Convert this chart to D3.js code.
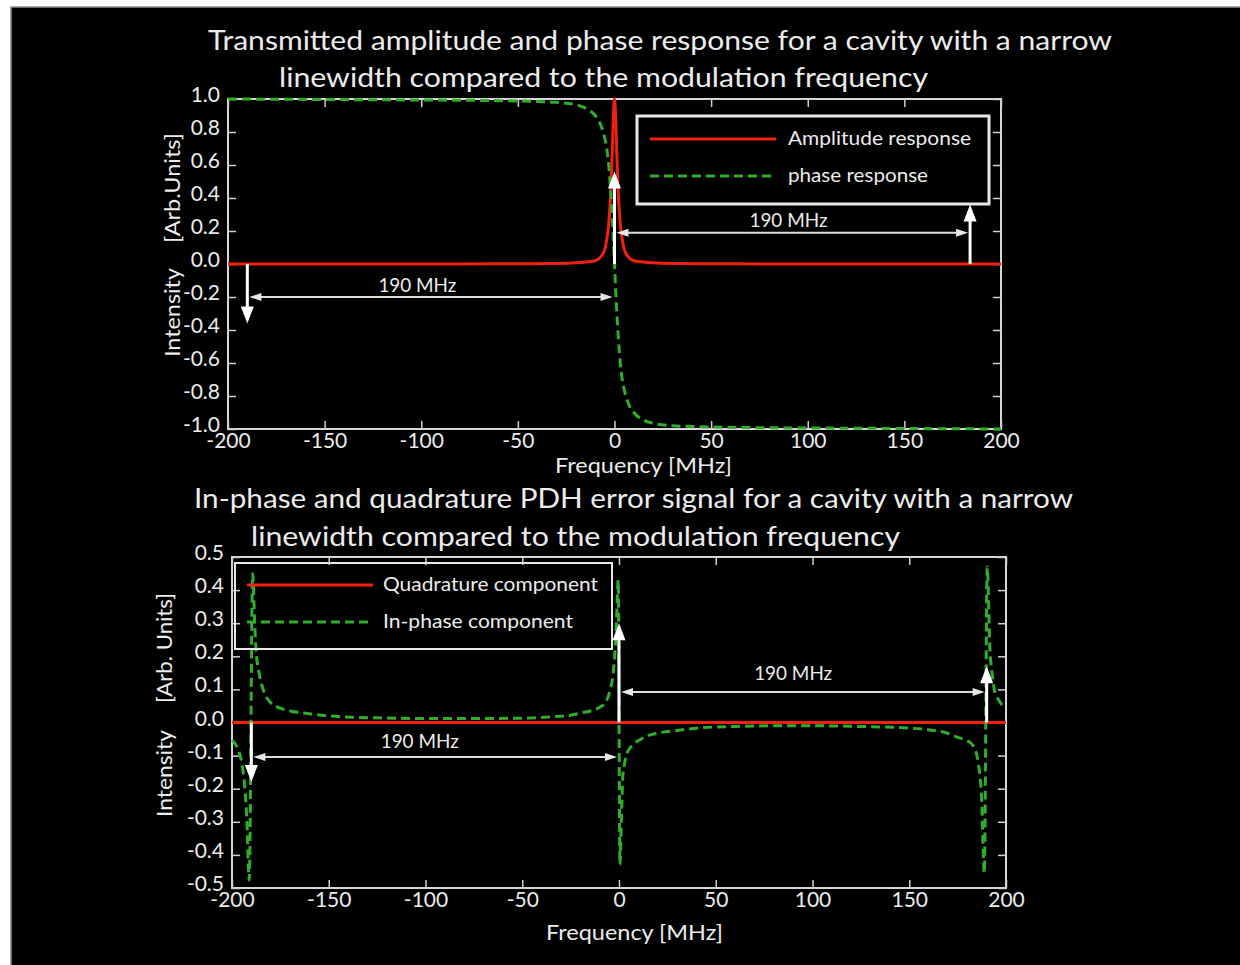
<!DOCTYPE html>
<html>
<head>
<meta charset="utf-8">
<script src="https://cdn.jsdelivr.net/npm/d3@7"></script>
<style>
  html, body { margin: 0; padding: 0; background: #fff; }
  svg { display: block; }
  text { font-family: Lato, "Open Sans", sans-serif; fill: #ececec; }
</style>
</head>
<body>
<div id="chart"></div>
<script>
// ---- values ----
const freqTicks = [-200, -150, -100, -50, 0, 50, 100, 150, 200];
const ampYTicks = [1.0, 0.8, 0.6, 0.4, 0.2, 0.0, -0.2, -0.4, -0.6, -0.8, -1.0];
const pdhYTicks = [0.5, 0.4, 0.3, 0.2, 0.1, 0.0, -0.1, -0.2, -0.3, -0.4, -0.5];

// top panel: amplitude response (red)
const ampFreq = [
  -200, -150, -100, -60, -40, -30, -20, -15, -10, -7,
  -5, -4, -3, -2.5, -2, -1.5, -1, -0.5,
  0,
  0.5, 1, 1.5, 2, 2.5, 3, 4, 5,
  7, 10, 15, 20, 30, 40, 60, 100, 150, 200];
const ampValue = [
  0, 0, 0, 0.001, 0.002, 0.003, 0.007, 0.012, 0.02, 0.045,
  0.09, 0.15, 0.24, 0.32, 0.42, 0.56, 0.74, 0.92,
  1.0,
  0.92, 0.74, 0.56, 0.42, 0.32, 0.24, 0.15, 0.09,
  0.045, 0.02, 0.012, 0.007, 0.003, 0.002, 0.001, 0, 0, 0];

// top panel: phase response (green dashed)
const phaseFreq = [
  -200, -150, -100, -60, -40, -30, -20, -15, -10, -7, -5, -4, -3, -2, -1,
  0,
  1, 2, 3, 4, 5, 7, 10, 15, 20, 30, 40, 60, 100, 150, 200];
const phaseValue = [
  1.0, 0.997, 0.994, 0.99, 0.985, 0.98, 0.965, 0.945, 0.9, 0.84, 0.76, 0.7, 0.6, 0.45, 0.25,
  0,
  -0.25, -0.45, -0.6, -0.7, -0.76, -0.84, -0.9, -0.945, -0.965, -0.98, -0.985, -0.99, -0.994, -0.997, -1.0];

// bottom panel: quadrature component (red)
const quadFreq = [-200, -100, 0, 100, 200];
const quadValue = [0, 0, 0, 0, 0];

// bottom panel: in-phase component (green dashed)
const inphFreq = [
  -200, -197, -195, -193.5, -192.4, -191.1, -189.3, -188.4, -187.6, -186,
  -183.8, -180, -176.9, -170, -164.9, -150, -125, -100, -75, -50,
  -35.7, -25, -18.6, -14, -9.8, -7, -4.6, -3, -2, -1.2,
  -0.4, 0.5, 1.2, 2, 3, 4, 5.7, 8, 10, 14,
  20, 30, 42, 60, 80, 100, 125, 150, 160, 170,
  175, 180, 183, 185.6, 187.4, 188.8, 190.3, 191.7, 193, 194.3,
  196, 198.5, 200];
const inphValue = [
  -0.053, -0.08, -0.12, -0.19, -0.285, -0.476, 0.45, 0.32, 0.22, 0.15,
  0.098, 0.06, 0.048, 0.035, 0.03, 0.02, 0.014, 0.012, 0.012, 0.013,
  0.017, 0.022, 0.03, 0.036, 0.047, 0.06, 0.098, 0.15, 0.22, 0.32,
  0.43, -0.43, -0.3, -0.16, -0.12, -0.095, -0.077, -0.062, -0.055, -0.042,
  -0.032, -0.024, -0.016, -0.012, -0.01, -0.01, -0.012, -0.017, -0.022, -0.033,
  -0.045, -0.055, -0.07, -0.12, -0.23, -0.455, 0.47, 0.22, 0.14, 0.09,
  0.07, 0.05, 0.045];

// annotation arrows, in data units (freq MHz, intensity)
const ampMarkers = [{f: 0, v: 0.56}, {f: 184, v: 0.36}, {f: -190, v: -0.36}];
const ampSpans = [
  {f0: 0, f1: 184, v: 0.19, label: "190 MHz", lf: 90, lv: 0.225},
  {f0: -190, f1: 0, v: -0.2, label: "190 MHz", lf: -102, lv: -0.17}];
const pdhMarkers = [{f: 0, v: 0.3}, {f: 190, v: 0.17}, {f: -190, v: -0.18}];
const pdhSpans = [
  {f0: 0, f1: 190, v: 0.092, label: "190 MHz", lf: 90, lv: 0.128},
  {f0: -190, f1: 0, v: -0.104, label: "190 MHz", lf: -103, lv: -0.077}];

const RED = "#f2200f";
const GREEN = "#30ad2c";

const svg = d3.select("#chart").append("svg")
    .attr("width", 1240)
    .attr("height", 965);

svg.append("rect").attr("width", 1240).attr("height", 965).attr("fill", "#fff");
svg.append("rect")
    .attr("x", 11).attr("y", 7).attr("width", 1240).attr("height", 970)
    .attr("fill", "#000").attr("stroke", "#8a8a8a").attr("stroke-width", 1.5);

function addText(str, x, y, size, len, opts = {}) {
    const t = svg.append("text")
        .attr("x", x).attr("y", y)
        .attr("font-size", size)
        .attr("text-anchor", opts.anchor || "start")
        .text(str);
    if (len) t.attr("textLength", len).attr("lengthAdjust", "spacingAndGlyphs");
    if (opts.rotate) t.attr("transform", `rotate(-90, ${x}, ${y})`);
    return t;
}

function drawPanel(cfg) {
    const x = d3.scaleLinear().domain([-200, 200]).range([cfg.left, cfg.right]);
    const y = d3.scaleLinear().domain(cfg.yDomain).range([cfg.bottom, cfg.top]);
    const g = svg.append("g");

    // frame
    g.append("rect")
        .attr("x", cfg.left).attr("y", cfg.top)
        .attr("width", cfg.right - cfg.left).attr("height", cfg.bottom - cfg.top)
        .attr("fill", "none").attr("stroke", "#d6d6d6").attr("stroke-width", 2);

    // inward ticks on all four sides
    const styleAxis = sel => {
        sel.select(".domain").remove();
        sel.selectAll(".tick line").attr("stroke", "#cfcfcf").attr("stroke-width", 1.5);
        sel.selectAll("text").attr("fill", "#ececec").attr("font-size", 21)
            .attr("font-family", "Lato, 'Open Sans', sans-serif");
        sel.attr("font-family", null).attr("font-size", null);
    };
    g.append("g").attr("transform", `translate(0,${cfg.bottom})`)
        .call(d3.axisBottom(x).tickValues(freqTicks).tickSize(-8).tickPadding(4).tickFormat(d => String(d)))
        .call(styleAxis);
    g.append("g").attr("transform", `translate(0,${cfg.top})`)
        .call(d3.axisTop(x).tickValues(freqTicks).tickSize(-8).tickFormat(() => ""))
        .call(styleAxis);
    g.append("g").attr("transform", `translate(${cfg.left},0)`)
        .call(d3.axisLeft(y).tickValues(cfg.yTicks).tickSize(-8).tickPadding(8).tickFormat(d => d.toFixed(1)))
        .call(styleAxis)
        .selectAll("text").attr("dy", "0.12em");
    g.append("g").attr("transform", `translate(${cfg.right},0)`)
        .call(d3.axisRight(y).tickValues(cfg.yTicks).tickSize(-8).tickFormat(() => ""))
        .call(styleAxis);

    // curves
    const line = d3.line().x(d => x(d[0])).y(d => y(d[1])).curve(d3.curveMonotoneX);
    cfg.series.forEach(s => {
        g.append("path")
            .datum(d3.zip(s.freq, s.value))
            .attr("d", line)
            .attr("fill", "none")
            .attr("stroke", s.color)
            .attr("stroke-width", 3)
            .attr("stroke-dasharray", s.dashed ? "9,5" : null);
    });

    // legend (transparent box)
    const lg = cfg.legend;
    g.append("rect")
        .attr("x", lg.x).attr("y", lg.y).attr("width", lg.w).attr("height", lg.h)
        .attr("fill", "none").attr("stroke", "#e8e8e8").attr("stroke-width", lg.stroke);
    cfg.series.forEach((s, i) => {
        const ly = lg.rows[i];
        g.append("line")
            .attr("x1", lg.lineX0).attr("x2", lg.lineX1).attr("y1", ly).attr("y2", ly)
            .attr("stroke", s.color).attr("stroke-width", 3)
            .attr("stroke-dasharray", s.dashed ? "9,5" : null);
        g.append("text")
            .attr("x", lg.textX).attr("y", ly + 6)
            .attr("font-size", 20)
            .attr("textLength", s.labelLen).attr("lengthAdjust", "spacingAndGlyphs")
            .text(s.name);
    });

    // vertical white arrows from zero line
    cfg.markers.forEach(m => {
        const x0 = x(m.f), y0 = y(0), yt = y(m.v);
        const dir = m.v > 0 ? 1 : -1;   // 1 = pointing up
        const headLen = 17, headW = 6.5;
        g.append("line")
            .attr("x1", x0).attr("x2", x0)
            .attr("y1", y0).attr("y2", yt + dir * headLen * 0.6)
            .attr("stroke", "#fff").attr("stroke-width", 3);
        g.append("path")
            .attr("d", `M${x0},${yt} L${x0 - headW},${yt + dir * headLen} L${x0 + headW},${yt + dir * headLen} Z`)
            .attr("fill", "#fff");
    });

    // horizontal double-headed spans
    cfg.spans.forEach(s => {
        const xa = x(s.f0) + 2, xb = x(s.f1) - 2, yy = y(s.v);
        const hl = 12, hw = 4;
        g.append("line")
            .attr("x1", xa + 4).attr("x2", xb - 4).attr("y1", yy).attr("y2", yy)
            .attr("stroke", "#dedede").attr("stroke-width", 2);
        g.append("path")
            .attr("d", `M${xa},${yy} L${xa + hl},${yy - hw} L${xa + hl},${yy + hw} Z`)
            .attr("fill", "#e6e6e6");
        g.append("path")
            .attr("d", `M${xb},${yy} L${xb - hl},${yy - hw} L${xb - hl},${yy + hw} Z`)
            .attr("fill", "#e6e6e6");
        g.append("text")
            .attr("x", x(s.lf)).attr("y", y(s.lv))
            .attr("text-anchor", "middle")
            .attr("font-size", 19)
            .attr("textLength", 78).attr("lengthAdjust", "spacingAndGlyphs")
            .text(s.label);
    });
}

// ---- top panel ----
addText("Transmitted amplitude and phase response for a cavity with a narrow", 208, 50, 27, 904);
addText("linewidth compared to the modulation frequency", 279, 87, 27, 649);
addText("Intensity", 180, 357, 22, 89, {rotate: true});
addText("[Arb.Units]", 180, 243, 22, 110, {rotate: true});
addText("Frequency [MHz]", 555, 473, 22, 177);

drawPanel({
    left: 228, right: 1001, top: 99, bottom: 429,
    yDomain: [-1, 1], yTicks: ampYTicks,
    series: [
        {name: "Amplitude response", freq: ampFreq, value: ampValue, color: RED, dashed: false, labelLen: 183},
        {name: "phase response", freq: phaseFreq, value: phaseValue, color: GREEN, dashed: true, labelLen: 140}
    ],
    legend: {x: 637, y: 116, w: 352, h: 88, stroke: 3, lineX0: 650, lineX1: 776, textX: 788, rows: [139, 176]},
    markers: ampMarkers,
    spans: ampSpans
});

// ---- bottom panel ----
addText("In-phase and quadrature PDH error signal for a cavity with a narrow", 194, 508, 27, 879);
addText("linewidth compared to the modulation frequency", 251, 546, 27, 649);
addText("Intensity", 172, 817, 22, 87, {rotate: true});
addText("[Arb. Units]", 172, 703, 22, 110, {rotate: true});
addText("Frequency [MHz]", 546, 940, 22, 177);

drawPanel({
    left: 232, right: 1006, top: 557, bottom: 888,
    yDomain: [-0.5, 0.5], yTicks: pdhYTicks,
    series: [
        {name: "Quadrature component", freq: quadFreq, value: quadValue, color: RED, dashed: false, labelLen: 215},
        {name: "In-phase component", freq: inphFreq, value: inphValue, color: GREEN, dashed: true, labelLen: 190}
    ],
    legend: {x: 235, y: 563, w: 377, h: 86, stroke: 2, lineX0: 247, lineX1: 373, textX: 383, rows: [585, 622]},
    markers: pdhMarkers,
    spans: pdhSpans
});
</script>
</body>
</html>
